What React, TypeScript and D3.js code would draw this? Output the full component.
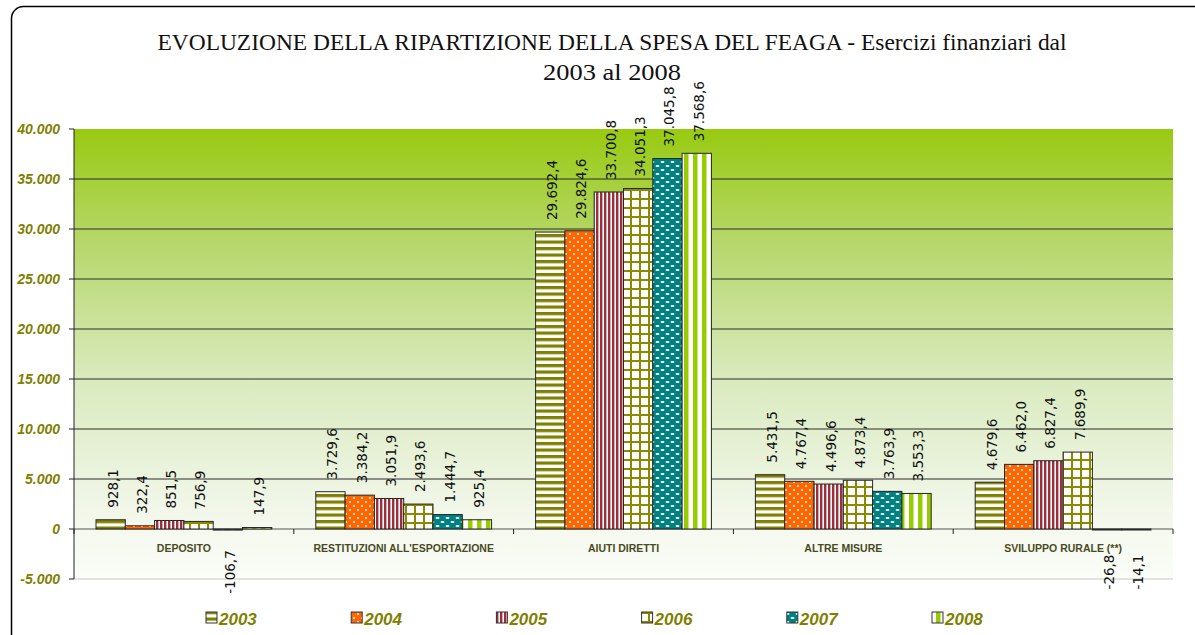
import React from "react";
import * as d3 from "d3";

const categories = ["DEPOSITO", "RESTITUZIONI ALL'ESPORTAZIONE", "AIUTI DIRETTI", "ALTRE MISURE", "SVILUPPO RURALE (**)"];
const years = ["2003", "2004", "2005", "2006", "2007", "2008"];
const v2003 = [928.1, 3729.6, 29692.4, 5431.5, 4679.6];
const v2004 = [322.4, 3384.2, 29824.6, 4767.4, 6462.0];
const v2005 = [851.5, 3051.9, 33700.8, 4496.6, 6827.4];
const v2006 = [756.9, 2493.6, 34051.3, 4873.4, 7689.9];
const v2007 = [-106.7, 1444.7, 37045.8, 3763.9, -26.8];
const v2008 = [147.9, 925.4, 37568.6, 3553.3, -14.1];
const seriesValues = [v2003, v2004, v2005, v2006, v2007, v2008];
const yTicks = [-5000, 0, 5000, 10000, 15000, 20000, 25000, 30000, 35000, 40000];
const titleLines = ["EVOLUZIONE DELLA RIPARTIZIONE DELLA SPESA DEL FEAGA -  Esercizi finanziari dal", "2003 al 2008"];

const W = 1195, H = 635;
const plot = { left: 74, right: 1173, top: 129, bottom: 579 };
const OLIVE = "#808000";

const fmt = (v: number) => {
  const s = d3.format(",.1f")(v);
  return s.replace(/,/g, "#").replace(".", ",").replace(/#/g, ".").replace("−", "-");
};
const fmtTick = (v: number) => (v === 0 ? "0" : d3.format(",")(v).replace(/,/g, ".").replace("−", "-"));

function Patterns() {
  return (
    <defs>
      <linearGradient id="bg" x1="0" y1="0" x2="0" y2="1">
        <stop offset="0" stopColor="#98ca10" />
        <stop offset="0.25" stopColor="#b6d76a" />
        <stop offset="0.55" stopColor="#d9eabd" />
        <stop offset="0.85" stopColor="#f2f7ea" />
        <stop offset="1" stopColor="#fbfdf8" />
      </linearGradient>
      <pattern id="p0" patternUnits="userSpaceOnUse" width="8" height="6.5">
        <rect width="8" height="6.5" fill="#ffffff" />
        <rect y="0" width="8" height="3.2" fill="#808000" />
      </pattern>
      <pattern id="p1" patternUnits="userSpaceOnUse" width="8" height="8">
        <rect width="8" height="8" fill="#ff6600" />
        <circle cx="2" cy="2" r="1" fill="#ffffff" />
        <circle cx="6" cy="6" r="1" fill="#ffffff" />
      </pattern>
      <pattern id="p2" patternUnits="userSpaceOnUse" width="4" height="4">
        <rect width="4" height="4" fill="#ffffff" />
        <rect x="0" width="2.4" height="4" fill="#9c2f3a" />
      </pattern>
      <pattern id="p3" patternUnits="userSpaceOnUse" width="9" height="9">
        <rect width="9" height="9" fill="#ffffff" />
        <rect x="0" width="2" height="9" fill="#8a8a00" />
        <rect y="0" width="9" height="2" fill="#8a8a00" />
      </pattern>
      <pattern id="p4" patternUnits="userSpaceOnUse" width="10" height="8">
        <rect width="10" height="8" fill="#008080" />
        <ellipse cx="2.5" cy="2" rx="2" ry="1" fill="#ffffff" />
        <ellipse cx="7.5" cy="6" rx="2" ry="1" fill="#ffffff" />
      </pattern>
      <pattern id="p5" patternUnits="userSpaceOnUse" width="9" height="9">
        <rect width="9" height="9" fill="#ffffff" />
        <rect x="0" width="4.5" height="9" fill="#99cc00" />
      </pattern>
    </defs>
  );
}

export default function App() {
  const x0 = d3.scaleBand<string>().domain(categories).range([plot.left, plot.right]).padding(0);
  const x1 = d3.scaleBand<string>().domain(years).range([22, x0.bandwidth() - 22]).padding(0);
  const y = d3.scaleLinear().domain([-5000, 40000]).range([plot.bottom, plot.top]);
  const y0 = y(0);

  return (
    <svg width={W} height={H} style={{ display: "block", position: "absolute", left: 0, top: 0 }}>
      <Patterns />
      <rect x={0} y={0} width={W} height={H} fill="#ffffff" />
      <rect x={11.5} y={6.5} width={1200} height={640} rx={12} fill="none" stroke="#000" strokeWidth={1.5} />

      <text x={612} y={50} textAnchor="middle" fontFamily="'Liberation Serif', serif" fontSize={23} fill="#111"
        textLength={909} lengthAdjust="spacingAndGlyphs">{titleLines[0]}</text>
      <text x={612} y={80} textAnchor="middle" fontFamily="'Liberation Serif', serif" fontSize={23} fill="#111"
        textLength={138} lengthAdjust="spacingAndGlyphs">{titleLines[1]}</text>

      <rect x={plot.left} y={plot.top} width={plot.right - plot.left} height={plot.bottom - plot.top} fill="url(#bg)" />

      {yTicks.filter((t) => t !== 40000).map((t) => (
        <line key={t} x1={plot.left} x2={plot.right} y1={y(t)} y2={y(t)}
          stroke={t === -5000 ? "#c8c8c8" : t === 0 ? "#555" : "#2a2a2a"} strokeWidth={1} />
      ))}
      <line x1={plot.left} x2={plot.left} y1={plot.top} y2={plot.bottom} stroke="#222" />
      {yTicks.map((t) => (
        <g key={t}>
          <line x1={plot.left - 5} x2={plot.left} y1={y(t)} y2={y(t)} stroke="#222" />
          <text x={60} y={y(t)} dy="0.36em" textAnchor="end" fontFamily="'Liberation Sans', Arial, sans-serif"
            fontWeight="bold" fontStyle="italic" fontSize={14} fill={OLIVE}>{fmtTick(t)}</text>
        </g>
      ))}
      {categories.concat(["end"]).map((c, i) => {
        const xx = plot.left + i * x0.bandwidth();
        return <line key={"ct" + i} x1={xx} x2={xx} y1={y0} y2={y0 + 5} stroke="#222" />;
      })}

      {seriesValues.map((vals, si) => (
        <g key={si}>
          {vals.map((v, ci) => {
            const bx = (x0(categories[ci]) as number) + (x1(years[si]) as number);
            const bw = x1.bandwidth();
            const top = Math.min(y(v), y0);
            const h = Math.max(Math.abs(y(v) - y0), 1);
            return (
              <rect key={ci} x={bx} y={top} width={bw} height={h} fill={`url(#p${si})`} stroke="#262626" strokeWidth={1} />
            );
          })}
        </g>
      ))}

      {seriesValues.map((vals, si) => (
        <g key={"l" + si}>
          {vals.map((v, ci) => {
            const cx = (x0(categories[ci]) as number) + (x1(years[si]) as number) + x1.bandwidth() / 2 + 2;
            const ly = v >= 0 ? y(v) - 12 : y0 + 43;
            return (
              <text key={ci} transform={`translate(${cx},${ly}) rotate(-90)`} dy="0.36em"
                textAnchor={v >= 0 ? "start" : "middle"} fontFamily="'DejaVu Sans', sans-serif" fontSize={13.5} fill="#111">
                {fmt(v)}
              </text>
            );
          })}
        </g>
      ))}

      {categories.map((c) => (
        <text key={c} x={(x0(c) as number) + x0.bandwidth() / 2} y={552} textAnchor="middle"
          fontFamily="'Liberation Sans', Arial, sans-serif" fontWeight="bold" fontSize={10.5} fill="#4a4a1f">{c}</text>
      ))}

      {years.map((yr, i) => {
        const lx = 206 + i * 145.2;
        return (
          <g key={yr}>
            <rect x={lx} y={612} width={11} height={11} fill={`url(#p${i})`} stroke="#333" strokeWidth={1} />
            <text x={lx + 13} y={625} fontFamily="'Liberation Sans', Arial, sans-serif" fontWeight="bold" fontStyle="italic"
              fontSize={17} fill={OLIVE}>{yr}</text>
          </g>
        );
      })}
    </svg>
  );
}
